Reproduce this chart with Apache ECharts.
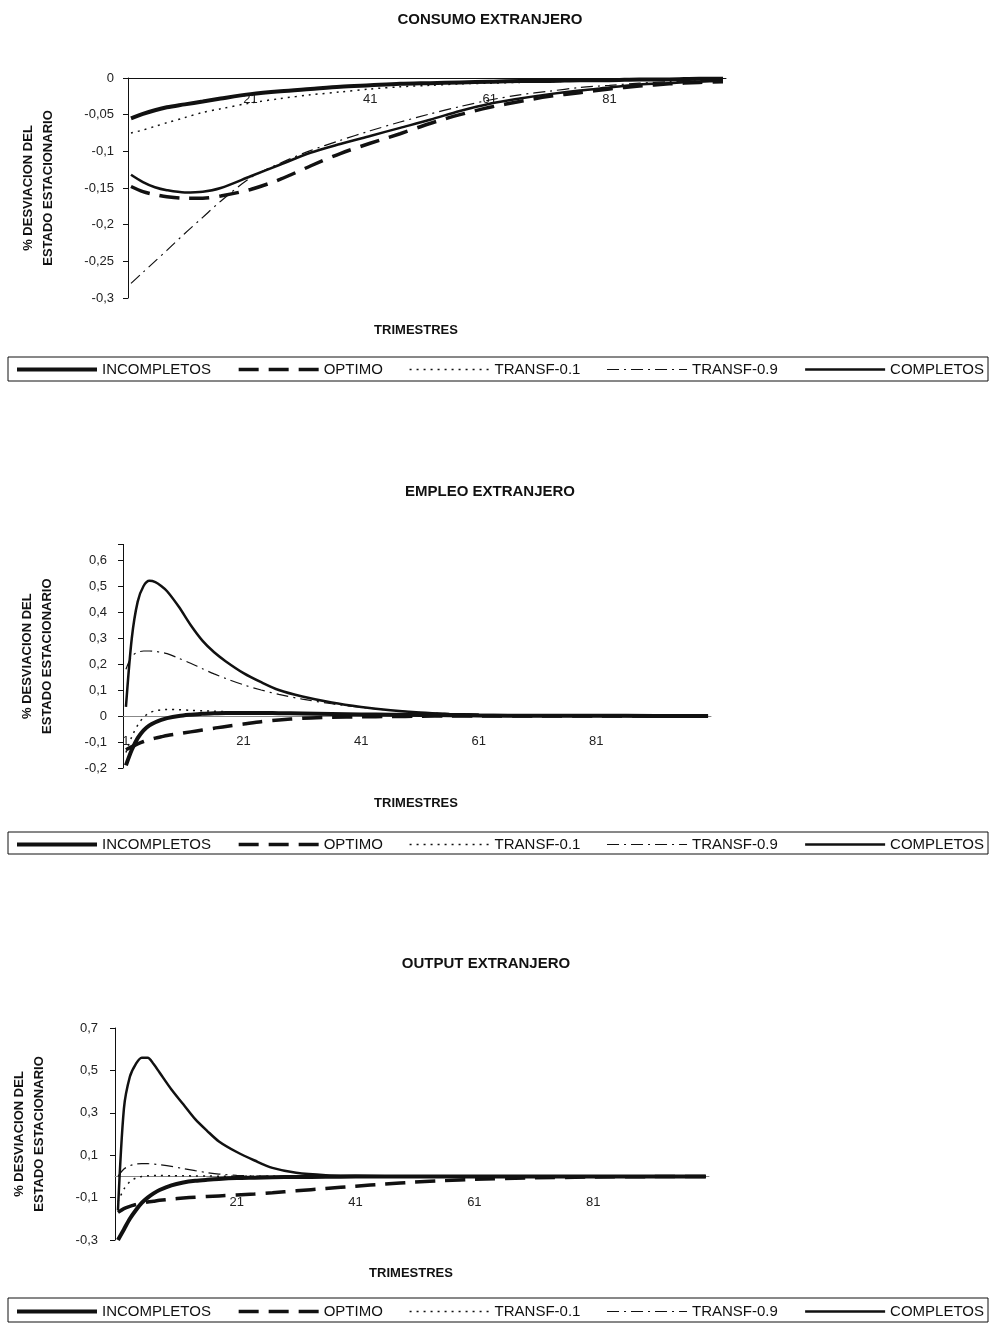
<!DOCTYPE html>
<html>
<head>
<meta charset="utf-8">
<script src="https://cdn.jsdelivr.net/npm/echarts@6.0.0/dist/echarts.min.js"></script>
<style>
  html, body { margin: 0; padding: 0; background: #fff; }
  #main { width: 997px; height: 1325px; }
</style>
</head>
<body>
<div id="main"></div>
<script>
// ---- datos ----
const trimestres = Array.from({ length: 100 }, (_, i) => String(i + 1));
const legendNames = ['INCOMPLETOS', 'OPTIMO', 'TRANSF-0.1', 'TRANSF-0.9', 'COMPLETOS'];
const panelTitles = ['CONSUMO EXTRANJERO', 'EMPLEO EXTRANJERO', 'OUTPUT EXTRANJERO'];
const xTickLabels1 = ['21', '41', '61', '81'];
const xTickLabels2 = ['1', '21', '41', '61', '81'];
const xTickLabels3 = ['21', '41', '61', '81'];

// consumo extranjero
const q1 = [1, 3, 5, 7, 10, 13, 16, 21, 26, 31, 36, 41, 46, 51, 56, 61, 66, 71, 76, 81, 86, 91, 96, 100];
const incompletos1 = [-0.055, -0.049, -0.044, -0.040, -0.036, -0.032, -0.028, -0.022, -0.018, -0.015, -0.012, -0.010, -0.008, -0.007, -0.006, -0.005, -0.004, -0.004, -0.003, -0.003, -0.002, -0.002, -0.001, -0.001];
const optimo1 = [-0.148, -0.155, -0.159, -0.162, -0.164, -0.164, -0.161, -0.152, -0.138, -0.120, -0.103, -0.089, -0.076, -0.062, -0.050, -0.040, -0.032, -0.025, -0.020, -0.015, -0.011, -0.008, -0.006, -0.005];
const transf01_1 = [-0.075, -0.071, -0.066, -0.061, -0.054, -0.047, -0.042, -0.034, -0.028, -0.023, -0.019, -0.015, -0.012, -0.010, -0.008, -0.007, -0.006, -0.005, -0.004, -0.003, -0.003, -0.002, -0.002, -0.001];
const transf09_1 = [-0.280, -0.265, -0.250, -0.235, -0.212, -0.190, -0.168, -0.136, -0.116, -0.099, -0.085, -0.072, -0.060, -0.049, -0.039, -0.030, -0.023, -0.018, -0.013, -0.010, -0.007, -0.005, -0.004, -0.003];
const completos1 = [-0.132, -0.142, -0.149, -0.153, -0.156, -0.155, -0.150, -0.134, -0.118, -0.102, -0.090, -0.079, -0.068, -0.057, -0.045, -0.035, -0.028, -0.022, -0.017, -0.013, -0.009, -0.007, -0.005, -0.004];

// empleo extranjero
const q2 = [1, 2, 3, 4, 5, 6, 7, 8, 10, 12, 14, 16, 18, 21, 24, 27, 31, 36, 41, 46, 51, 56, 61, 71, 81, 91, 100];
const incompletos2 = [-0.19, -0.13, -0.085, -0.055, -0.036, -0.024, -0.015, -0.008, 0.0, 0.005, 0.009, 0.011, 0.012, 0.012, 0.012, 0.011, 0.010, 0.008, 0.006, 0.005, 0.004, 0.003, 0.002, 0.001, 0.001, 0.0, 0.0];
const optimo2 = [-0.13, -0.118, -0.107, -0.098, -0.091, -0.085, -0.080, -0.075, -0.068, -0.061, -0.054, -0.047, -0.040, -0.031, -0.022, -0.015, -0.009, -0.005, -0.003, -0.002, -0.001, 0.0, 0.0, 0.0, 0.0, 0.0, 0.0];
const transf01_2 = [-0.14, -0.08, -0.035, -0.005, 0.012, 0.020, 0.024, 0.025, 0.024, 0.022, 0.020, 0.018, 0.017, 0.015, 0.013, 0.012, 0.010, 0.008, 0.006, 0.005, 0.004, 0.003, 0.002, 0.001, 0.001, 0.0, 0.0];
const transf09_2 = [0.18, 0.23, 0.245, 0.25, 0.25, 0.248, 0.245, 0.24, 0.222, 0.203, 0.182, 0.162, 0.144, 0.12, 0.10, 0.083, 0.065, 0.047, 0.033, 0.022, 0.014, 0.009, 0.006, 0.002, 0.001, 0.0, 0.0];
const completos2 = [0.035, 0.30, 0.44, 0.50, 0.52, 0.515, 0.50, 0.48, 0.42, 0.35, 0.29, 0.245, 0.21, 0.165, 0.13, 0.10, 0.075, 0.052, 0.035, 0.022, 0.013, 0.008, 0.005, 0.002, 0.001, 0.0, 0.0];

// output extranjero
const q3 = [1, 2, 3, 4, 5, 6, 7, 8, 10, 12, 14, 16, 18, 21, 24, 27, 31, 36, 41, 46, 51, 56, 61, 71, 81, 91, 100];
const incompletos3 = [-0.30, -0.25, -0.20, -0.16, -0.125, -0.10, -0.08, -0.064, -0.042, -0.029, -0.021, -0.016, -0.012, -0.008, -0.006, -0.004, -0.003, -0.002, -0.001, -0.001, 0.0, 0.0, 0.0, 0.0, 0.0, 0.0, 0.0];
const optimo3 = [-0.17, -0.152, -0.141, -0.133, -0.126, -0.121, -0.117, -0.113, -0.107, -0.102, -0.098, -0.095, -0.092, -0.088, -0.083, -0.077, -0.068, -0.057, -0.046, -0.036, -0.027, -0.020, -0.014, -0.007, -0.003, -0.001, 0.0];
const transf01_3 = [-0.12, -0.06, -0.025, -0.008, 0.0, 0.003, 0.004, 0.004, 0.003, 0.003, 0.002, 0.002, 0.001, 0.001, 0.001, 0.0, 0.0, 0.0, 0.0, 0.0, 0.0, 0.0, 0.0, 0.0, 0.0, 0.0, 0.0];
const transf09_3 = [0.0, 0.035, 0.05, 0.058, 0.06, 0.06, 0.058, 0.055, 0.047, 0.037, 0.027, 0.018, 0.011, 0.005, 0.002, 0.001, 0.0, 0.0, 0.0, 0.0, 0.0, 0.0, 0.0, 0.0, 0.0, 0.0, 0.0];
const completos3 = [-0.16, 0.32, 0.47, 0.53, 0.56, 0.56, 0.53, 0.49, 0.41, 0.34, 0.27, 0.215, 0.165, 0.115, 0.075, 0.04, 0.017, 0.006, 0.003, 0.001, 0.0, 0.0, 0.0, 0.0, 0.0, 0.0, 0.0];

// ---- estilos de linea ----
const LINE_STYLE = {
  INCOMPLETOS: { width: 4, type: 'solid' },
  OPTIMO: { width: 3.5, type: [20, 10] },
  'TRANSF-0.1': { width: 1.5, type: [2, 5] },
  'TRANSF-0.9': { width: 1.2, type: [12, 5, 2, 5] },
  COMPLETOS: { width: 2.5, type: 'solid' },
};

// layout of the three panels (pixels)
const panels = [
  {
    quarters: q1, xTicks: xTickLabels1,
    values: { INCOMPLETOS: incompletos1, OPTIMO: optimo1, 'TRANSF-0.1': transf01_1, 'TRANSF-0.9': transf09_1, COMPLETOS: completos1 },
    grid: { left: 128, top: 78, width: 598, height: 220 },
    y: { min: -0.3, max: 0, interval: 0.05 }, nameGap: 70, yLabelMargin: 14, xLabelMargin: 15,
    zeroColor: '#111', title: [490, 20], xName: [416, 330], legendTop: 362, box: [8, 357, 980, 24],
  },
  {
    quarters: q2, xTicks: xTickLabels2,
    values: { INCOMPLETOS: incompletos2, OPTIMO: optimo2, 'TRANSF-0.1': transf01_2, 'TRANSF-0.9': transf09_2, COMPLETOS: completos2 },
    grid: { left: 123, top: 544.4, width: 588, height: 223.6 },
    y: { min: -0.2, max: 0.66, interval: 0.1 }, nameGap: 66, yLabelMargin: 16, xLabelMargin: 19,
    zeroColor: '#888', title: [490, 492], xName: [416, 803], legendTop: 837, box: [8, 832, 980, 22],
  },
  {
    quarters: q3, xTicks: xTickLabels3,
    values: { INCOMPLETOS: incompletos3, OPTIMO: optimo3, 'TRANSF-0.1': transf01_3, 'TRANSF-0.9': transf09_3, COMPLETOS: completos3 },
    grid: { left: 115, top: 1028, width: 594, height: 212 },
    y: { min: -0.3, max: 0.7, interval: 0.2 }, nameGap: 66, yLabelMargin: 17, xLabelMargin: 20,
    zeroColor: '#888', title: [486, 964], xName: [411, 1273], legendTop: 1304, box: [8, 1298, 980, 24],
  },
];

const fmtComma = (v) => {
  const r = Math.round(v * 100) / 100;
  if (Math.abs(r / 0.05 - Math.round(r / 0.05)) > 1e-6) return '';
  return r === 0 ? '0' : String(r).replace('.', ',');
};

const drawOrder = ['TRANSF-0.1', 'TRANSF-0.9', 'OPTIMO', 'COMPLETOS', 'INCOMPLETOS'];

const series = [];
panels.forEach((p, idx) => {
  drawOrder.forEach((name) => {
    series.push({
      name,
      type: 'line',
      xAxisIndex: idx,
      yAxisIndex: idx,
      data: p.quarters.map((q, i) => [String(q), p.values[name][i]]),
      smooth: 0.3,
      symbol: 'none',
      lineStyle: { color: '#111', ...LINE_STYLE[name] },
      itemStyle: { color: '#111' },
    });
  });
});

const chart = echarts.init(document.getElementById('main'));

chart.setOption({
  animation: false,
  textStyle: { fontFamily: 'Liberation Sans, Arial, sans-serif' },
  title: panels.flatMap((p, i) => [
    {
      text: panelTitles[i], left: p.title[0] - 5, top: p.title[1] - 5,
      textAlign: 'center', textVerticalAlign: 'middle',
      textStyle: { fontSize: 15, fontWeight: 'bold', color: '#111' },
    },
    {
      text: 'TRIMESTRES', left: p.xName[0] - 5, top: p.xName[1] - 5,
      textAlign: 'center', textVerticalAlign: 'middle',
      textStyle: { fontSize: 13, fontWeight: 'bold', color: '#111' },
    },
  ]),
  legend: panels.map((p) => ({
    top: p.legendTop,
    left: 15,
    padding: 0,
    itemGap: 26,
    itemWidth: 80,
    itemHeight: 12,
    selectedMode: false,
    itemStyle: { opacity: 0 },
    // legend keeps the same stroke widths as the plotted lines
    data: legendNames.map((n) => ({ name: n, lineStyle: { width: LINE_STYLE[n].width } })),
    textStyle: { fontSize: 15, color: '#111' },
  })),
  graphic: panels.map((p) => ({
    type: 'rect',
    silent: true,
    shape: { x: p.box[0], y: p.box[1], width: p.box[2], height: p.box[3] },
    style: { fill: 'none', stroke: '#111', lineWidth: 1 },
  })),
  grid: panels.map((p) => ({ ...p.grid })),
  xAxis: panels.map((p, i) => ({
    type: 'category',
    gridIndex: i,
    data: trimestres,
    boundaryGap: true,
    // axis sits on the zero line: shift it up from the grid bottom
    offset: -p.grid.height * (0 - p.y.min) / (p.y.max - p.y.min),
    axisLine: { onZero: false, lineStyle: { color: p.zeroColor, width: 1 } },
    axisTick: { show: false },
    splitLine: { show: false },
    axisLabel: {
      interval: 0,
      margin: p.xLabelMargin,
      fontSize: 13,
      color: '#222',
      formatter: (v) => (p.xTicks.includes(v) ? v : ''),
    },
  })),
  yAxis: panels.map((p, i) => ({
    type: 'value',
    gridIndex: i,
    min: p.y.min,
    max: p.y.max,
    interval: p.y.interval,
    axisLine: { show: true, lineStyle: { color: '#111' } },
    axisTick: { show: true, length: 5, lineStyle: { color: '#111' } },
    splitLine: { show: false },
    axisLabel: { margin: p.yLabelMargin, fontSize: 13, color: '#222', formatter: fmtComma },
    name: '% DESVIACION DEL\nESTADO ESTACIONARIO',
    nameLocation: 'middle',
    nameRotate: 90,
    nameGap: p.nameGap,
    nameTextStyle: { fontSize: 13, fontWeight: 'bold', lineHeight: 20, color: '#111' },
  })),
  series,
});
</script>
</body>
</html>
